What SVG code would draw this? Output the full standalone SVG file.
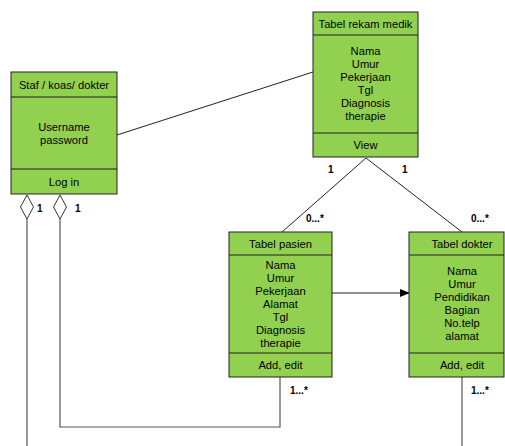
<svg xmlns="http://www.w3.org/2000/svg" width="505" height="446" viewBox="0 0 505 446">
<style>
.box{fill:#92D050;stroke:#222;stroke-width:1}
.t{font-family:"Liberation Sans",Arial,sans-serif;font-size:11.2px;fill:#000;text-anchor:middle}
.lbl{font-family:"Liberation Sans",Arial,sans-serif;font-size:10px;font-weight:bold;fill:#000}
.c{fill:none;stroke:#222;stroke-width:1}
.g{fill:none;stroke:#555;stroke-width:1.2}
</style>
<defs>
<marker id="arr" markerWidth="10" markerHeight="8" refX="9" refY="4" orient="auto" markerUnits="userSpaceOnUse">
<path d="M0,0 L10,4 L0,8 Z" fill="#000"/>
</marker>
</defs>
<g id="connectors">
<line class="c" x1="117" y1="135" x2="313" y2="72"/>
<line class="c" x1="366" y1="158" x2="282" y2="232"/>
<line class="c" x1="366" y1="158" x2="462" y2="232"/>
<line class="c" x1="332" y1="293" x2="409" y2="293" marker-end="url(#arr)"/>
<polygon fill="#fff" stroke="#333" points="27,195 33.5,207 27,219 20.5,207"/>
<polygon fill="#fff" stroke="#333" points="60,195 66.5,207 60,219 53.5,207"/>
<polyline class="g" points="27,219 27,446"/>
<polyline class="g" points="60,219 60,427 280,427 280,377"/>
<polyline class="g" points="462,377 462,446"/>
<text class="lbl" x="37" y="212">1</text>
<text class="lbl" x="75" y="212">1</text>
<text class="lbl" x="328" y="173">1</text>
<text class="lbl" x="402" y="173">1</text>
<text class="lbl" x="306" y="222">0...*</text>
<text class="lbl" x="471" y="222">0...*</text>
<text class="lbl" x="290" y="394">1...*</text>
<text class="lbl" x="471" y="394">1...*</text>
</g>
<g id="staf">
<rect class="box" x="11" y="72" width="106" height="122"/>
<line class="c" x1="11" y1="97" x2="117" y2="97"/>
<line class="c" x1="11" y1="169" x2="117" y2="169"/>
<text class="t" x="64" y="89">Staf / koas/ dokter</text>
<text class="t" x="64" y="131">Username</text>
<text class="t" x="64" y="144">password</text>
<text class="t" x="64" y="186">Log in</text>
</g>
<g id="rekam">
<rect class="box" x="313" y="12" width="105" height="145"/>
<line class="c" x1="313" y1="35" x2="418" y2="35"/>
<line class="c" x1="313" y1="133" x2="418" y2="133"/>
<text class="t" x="365.5" y="28">Tabel rekam medik</text>
<text class="t" x="365.5" y="55">Nama</text>
<text class="t" x="365.5" y="68">Umur</text>
<text class="t" x="365.5" y="81">Pekerjaan</text>
<text class="t" x="365.5" y="94">Tgl</text>
<text class="t" x="365.5" y="107">Diagnosis</text>
<text class="t" x="365.5" y="120">therapie</text>
<text class="t" x="365.5" y="149">View</text>
</g>
<g id="pasien">
<rect class="box" x="229" y="232" width="103" height="145"/>
<line class="c" x1="229" y1="255" x2="332" y2="255"/>
<line class="c" x1="229" y1="353" x2="332" y2="353"/>
<text class="t" x="280.5" y="248">Tabel pasien</text>
<text class="t" x="280.5" y="269">Nama</text>
<text class="t" x="280.5" y="282">Umur</text>
<text class="t" x="280.5" y="295">Pekerjaan</text>
<text class="t" x="280.5" y="308">Alamat</text>
<text class="t" x="280.5" y="321">Tgl</text>
<text class="t" x="280.5" y="334">Diagnosis</text>
<text class="t" x="280.5" y="347">therapie</text>
<text class="t" x="280.5" y="369">Add, edit</text>
</g>
<g id="dokter">
<rect class="box" x="409" y="232" width="95" height="145"/>
<line class="c" x1="409" y1="255" x2="504" y2="255"/>
<line class="c" x1="409" y1="353" x2="504" y2="353"/>
<text class="t" x="462" y="248">Tabel dokter</text>
<text class="t" x="462" y="275">Nama</text>
<text class="t" x="462" y="288">Umur</text>
<text class="t" x="462" y="301">Pendidikan</text>
<text class="t" x="462" y="314">Bagian</text>
<text class="t" x="462" y="327">No.telp</text>
<text class="t" x="462" y="340">alamat</text>
<text class="t" x="462" y="369">Add, edit</text>
</g>
</svg>
